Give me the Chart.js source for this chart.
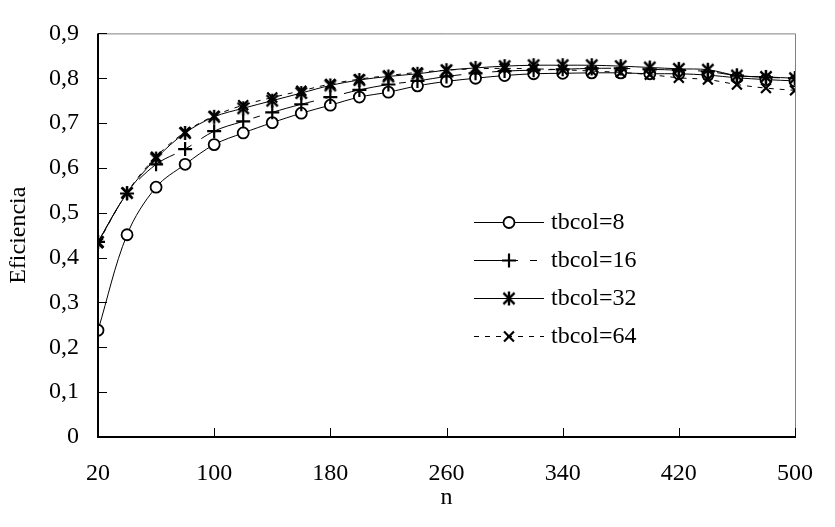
<!doctype html>
<html lang="es">
<head>
<meta charset="utf-8">
<style>
  * { margin: 0; padding: 0; }
  body { background: #fff; }
  .chartBox { width: 835px; height: 527px; }
</style>
</head>
<body>
<div class="chartBox"><canvas id="myChart"></canvas></div>
<script src="https://cdn.jsdelivr.net/npm/chart.js/dist/chart.umd.min.js"></script>
<script>
// tamaño de la matriz
const n = [20, 40, 60, 80, 100, 120, 140, 160, 180, 200, 220, 240, 260,
           280, 300, 320, 340, 360, 380, 400, 420, 440, 460, 480, 500];

// eficiencia para cada tamaño de bloque de columnas
const tbcol8  = [0.238, 0.451, 0.557, 0.608, 0.652, 0.678, 0.701, 0.722, 0.740, 0.758, 0.769, 0.783, 0.793,
                 0.800, 0.806, 0.810, 0.811, 0.812, 0.812, 0.810, 0.810, 0.807, 0.801, 0.797, 0.794];
const tbcol16 = [0.435, 0.543, 0.608, 0.642, 0.682, 0.704, 0.724, 0.742, 0.758, 0.774, 0.786, 0.794, 0.804,
                 0.811, 0.816, 0.818, 0.820, 0.822, 0.822, 0.820, 0.818, 0.815, 0.806, 0.802, 0.800];
const tbcol32 = [0.435, 0.544, 0.621, 0.678, 0.714, 0.733, 0.750, 0.767, 0.784, 0.796, 0.804, 0.810, 0.818,
                 0.823, 0.827, 0.829, 0.829, 0.829, 0.827, 0.824, 0.821, 0.819, 0.806, 0.803, 0.800];
const tbcol64 = [0.432, 0.545, 0.625, 0.680, 0.716, 0.740, 0.757, 0.772, 0.787, 0.798, 0.806, 0.813, 0.818,
                 0.821, 0.822, 0.821, 0.819, 0.816, 0.813, 0.808, 0.801, 0.797, 0.786, 0.778, 0.773];

const seriesNames = ['tbcol=8', 'tbcol=16', 'tbcol=32', 'tbcol=64'];

// marcas de los ejes
const xTicks = [20, 100, 180, 260, 340, 420, 500];
const xTickLabels = ['20', '100', '180', '260', '340', '420', '500'];
const yTicks = [0, 0.1, 0.2, 0.3, 0.4, 0.5, 0.6, 0.7, 0.8, 0.9];
const yTickLabels = ['0', '0,1', '0,2', '0,3', '0,4', '0,5', '0,6', '0,7', '0,8', '0,9'];

const serif = "'Liberation Serif', 'Times New Roman', serif";

// asterisco de 6 brazos
function makeStar(r) {
  const c = document.createElement('canvas');
  const s = r * 2 + 4;
  c.width = s; c.height = s;
  const g = c.getContext('2d');
  g.strokeStyle = '#000';
  g.lineWidth = 2.4;
  g.translate(s / 2, s / 2);
  g.beginPath();
  g.moveTo(0, -r); g.lineTo(0, r);
  g.moveTo(-r * 0.8, -r * 0.8); g.lineTo(r * 0.8, r * 0.8);
  g.moveTo(r * 0.8, -r * 0.8); g.lineTo(-r * 0.8, r * 0.8);
  g.stroke();
  return c;
}
const starImg = makeStar(7);

const pts = (arr) => arr.map((v, i) => ({ x: n[i], y: v }));

const data = {
  datasets: [
    {
      label: seriesNames[0], data: pts(tbcol8), order: 4,
      borderColor: '#000', borderWidth: 1,
      pointStyle: 'circle', pointRadius: 5.5, pointBorderWidth: 1.8,
      pointBackgroundColor: '#fff', pointBorderColor: '#000'
    },
    {
      label: seriesNames[1], data: pts(tbcol16), order: 3,
      borderColor: '#000', borderWidth: 1, borderDash: [44, 12, 7, 12],
      pointStyle: 'cross', pointRadius: 7, pointBorderWidth: 2.2,
      pointBorderColor: '#000'
    },
    {
      label: seriesNames[2], data: pts(tbcol32), order: 2,
      borderColor: '#000', borderWidth: 1,
      pointStyle: starImg, pointRadius: 7
    },
    {
      label: seriesNames[3], data: pts(tbcol64), order: 1,
      borderColor: '#000', borderWidth: 1, borderDash: [5, 6],
      pointStyle: 'crossRot', pointRadius: 7, pointBorderWidth: 2.2,
      pointBorderColor: '#000'
    }
  ]
};

// marco del área de trazado y marcas hacia dentro
const frame = {
  id: 'frame',
  afterDatasetsDraw(chart) {
    const { ctx, chartArea: { top, bottom, left, right }, scales: { x, y } } = chart;
    ctx.save();
    ctx.strokeStyle = '#808080';
    ctx.lineWidth = 1;
    ctx.beginPath();
    ctx.moveTo(left, top + 0.5); ctx.lineTo(right + 0.5, top + 0.5); ctx.lineTo(right + 0.5, bottom);
    ctx.stroke();

    ctx.strokeStyle = '#000';
    ctx.lineWidth = 2;
    ctx.beginPath();
    ctx.moveTo(left, top); ctx.lineTo(left, bottom); ctx.lineTo(right + 1, bottom);
    ctx.stroke();

    ctx.lineWidth = 1;
    ctx.beginPath();
    y.ticks.forEach(t => {
      const py = Math.round(y.getPixelForValue(t.value)) + 0.5;
      ctx.moveTo(left, py); ctx.lineTo(left + 9, py);
    });
    x.ticks.forEach(t => {
      const px = Math.round(x.getPixelForValue(t.value)) + 0.5;
      ctx.moveTo(px, bottom); ctx.lineTo(px, bottom - 9);
    });
    ctx.stroke();
    ctx.restore();
  }
};

// leyenda dentro del gráfico
const insideLegend = {
  id: 'insideLegend',
  afterDraw(chart) {
    const { ctx } = chart;
    const x0 = 474, x1 = 544, mx = 509, tx = 551;
    const rows = [222, 260, 298, 336];
    ctx.save();
    chart.data.datasets.forEach((ds, i) => {
      const yy = rows[i] + 0.5;
      ctx.strokeStyle = '#000';
      ctx.lineWidth = 1;
      ctx.setLineDash(ds.borderDash || []);
      ctx.beginPath();
      ctx.moveTo(x0, yy); ctx.lineTo(x1, yy);
      ctx.stroke();
      ctx.setLineDash([]);
      const bw = ds.pointBorderWidth || 1;
      ctx.lineWidth = bw;
      ctx.fillStyle = '#fff';
      Chart.helpers.drawPoint(ctx, {
        pointStyle: ds.pointStyle, radius: ds.pointRadius, rotation: 0, borderWidth: bw
      }, mx, yy);
      ctx.fillStyle = '#000';
      ctx.font = '24px ' + serif;
      ctx.textAlign = 'left';
      ctx.textBaseline = 'middle';
      ctx.fillText(ds.label, tx, yy);
    });
    ctx.restore();
  }
};

const config = {
  type: 'line',
  data,
  options: {
    responsive: false,
    animation: false,
    layout: { padding: { top: 16, right: 18, left: 0, bottom: 0 } },
    elements: { line: { tension: 0.35, fill: false } },
    scales: {
      x: {
        type: 'linear', min: 20, max: 500,
        afterBuildTicks: s => { s.ticks = xTicks.map(v => ({ value: v })); },
        afterFit: s => { s.height = 90; },
        grid: { display: false, drawTicks: false },
        border: { display: false },
        ticks: {
          padding: 22, color: '#000', maxRotation: 0, autoSkip: false,
          font: { family: serif, size: 24 },
          callback: (v, i) => xTickLabels[i]
        },
        title: {
          display: true, text: 'n', color: '#000',
          font: { family: serif, size: 24 }, padding: { top: 0, bottom: 15 }
        }
      },
      y: {
        min: 0, max: 0.9,
        afterBuildTicks: s => { s.ticks = yTicks.map(v => ({ value: v })); },
        afterFit: s => { s.width = 98; },
        grid: { display: false, drawTicks: false },
        border: { display: false },
        ticks: {
          padding: 19, color: '#000', autoSkip: false,
          font: { family: serif, size: 24 },
          callback: (v, i) => yTickLabels[i]
        },
        title: {
          display: true, text: 'Eficiencia', color: '#000',
          font: { family: serif, size: 24 }, padding: { top: 4, bottom: 0 }
        }
      }
    },
    plugins: {
      legend: { display: false },
      tooltip: { enabled: false }
    }
  },
  plugins: [frame, insideLegend]
};

const canvas = document.getElementById('myChart');
canvas.width = 835;
canvas.height = 527;
const myChart = new Chart(canvas, config);
</script>
</body>
</html>
